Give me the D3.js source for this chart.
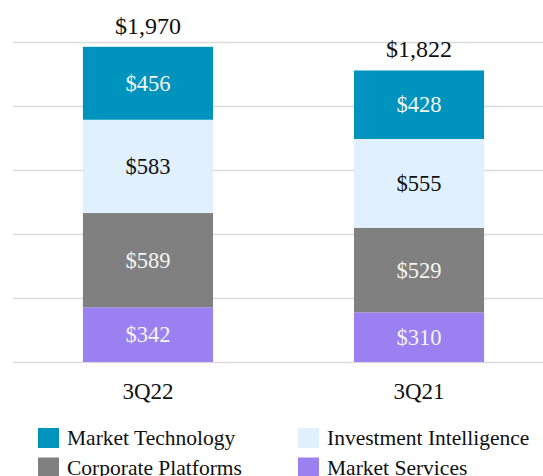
<!DOCTYPE html>
<html>
<head>
<meta charset="utf-8">
<script src="https://cdn.jsdelivr.net/npm/d3@7"></script>
<style>
  html, body { margin: 0; padding: 0; background: #ffffff; }
  svg { display: block; }
</style>
</head>
<body>
<svg id="chart" width="543" height="476"></svg>
<script>
const categories = ["3Q22", "3Q21"];
const seriesNames = ["Market Services", "Corporate Platforms", "Investment Intelligence", "Market Technology"];
const marketServices = [342, 310];
const corporatePlatforms = [589, 529];
const investmentIntelligence = [583, 555];
const marketTechnology = [456, 428];
const totals = [1970, 1822];
const yTicks = [0, 400, 800, 1200, 1600, 2000];

const colors = {
  "Market Technology": "#0093BE",
  "Investment Intelligence": "#E1F0FE",
  "Corporate Platforms": "#808080",
  "Market Services": "#9B80F2"
};
const labelColors = {
  "Market Technology": "#F4F4F0",
  "Investment Intelligence": "#111111",
  "Corporate Platforms": "#F4F4F0",
  "Market Services": "#F4F4F0"
};

const font = "'Liberation Serif', 'Times New Roman', serif";
const svg = d3.select("#chart");

const x = d3.scaleBand().domain(categories).range([13, 554]).paddingInner(0.52).paddingOuter(0.258);
const y = d3.scaleLinear().domain([0, 2000]).range([362, 42]);

// gridlines via axis
const yAxis = d3.axisLeft(y).tickValues(yTicks).tickSize(-530).tickFormat("");
const gAxis = svg.append("g").attr("transform", "translate(13,0)").call(yAxis);
gAxis.select(".domain").remove();
gAxis.selectAll(".tick line").attr("stroke", "#DCDCDC").attr("stroke-width", 1.5);

const rows = categories.map((c, i) => ({
  cat: c,
  "Market Services": marketServices[i],
  "Corporate Platforms": corporatePlatforms[i],
  "Investment Intelligence": investmentIntelligence[i],
  "Market Technology": marketTechnology[i]
}));
const stacked = d3.stack().keys(seriesNames)(rows);

const layers = svg.append("g").selectAll("g").data(stacked).join("g")
  .attr("fill", d => colors[d.key]);
layers.selectAll("rect").data(d => d.map(v => ({v, key: d.key}))).join("rect")
  .attr("x", d => x(d.v.data.cat))
  .attr("width", x.bandwidth())
  .attr("y", d => y(d.v[1]))
  .attr("height", d => y(d.v[0]) - y(d.v[1]));

const labels = svg.append("g").selectAll("g").data(stacked).join("g");
labels.selectAll("text").data(d => d.map(v => ({v, key: d.key}))).join("text")
  .attr("x", d => x(d.v.data.cat) + x.bandwidth() / 2)
  .attr("y", d => (y(d.v[0]) + y(d.v[1])) / 2 + 7.5)
  .attr("text-anchor", "middle")
  .attr("font-family", font)
  .attr("font-size", 22.5)
  .attr("fill", d => labelColors[d.key])
  .text(d => "$" + d3.format(",")(d.v[1] - d.v[0]));

// totals
svg.append("g").selectAll("text").data(categories).join("text")
  .attr("x", (c) => x(c) + x.bandwidth() / 2)
  .attr("y", (c, i) => y(totals[i]) - 13)
  .attr("text-anchor", "middle")
  .attr("font-family", font)
  .attr("font-size", 24)
  .attr("fill", "#111")
  .text((c, i) => "$" + d3.format(",")(totals[i]));

// category labels
svg.append("g").selectAll("text").data(categories).join("text")
  .attr("x", c => x(c) + x.bandwidth() / 2)
  .attr("y", 399)
  .attr("text-anchor", "middle")
  .attr("font-family", font)
  .attr("font-size", 23)
  .attr("fill", "#111")
  .text(c => c);

// legend
const legendItems = ["Market Technology", "Investment Intelligence", "Corporate Platforms", "Market Services"];
const leg = svg.append("g").selectAll("g").data(legendItems).join("g")
  .attr("transform", (d, i) => `translate(${i % 2 === 0 ? 38 : 298},${428 + Math.floor(i / 2) * 29.5})`);
leg.append("rect").attr("width", 21).attr("height", 20).attr("fill", d => colors[d]);
leg.append("text").attr("x", 29).attr("y", 17)
  .attr("font-family", font).attr("font-size", 21.5).attr("fill", "#111")
  .text(d => d);
</script>
</body>
</html>
